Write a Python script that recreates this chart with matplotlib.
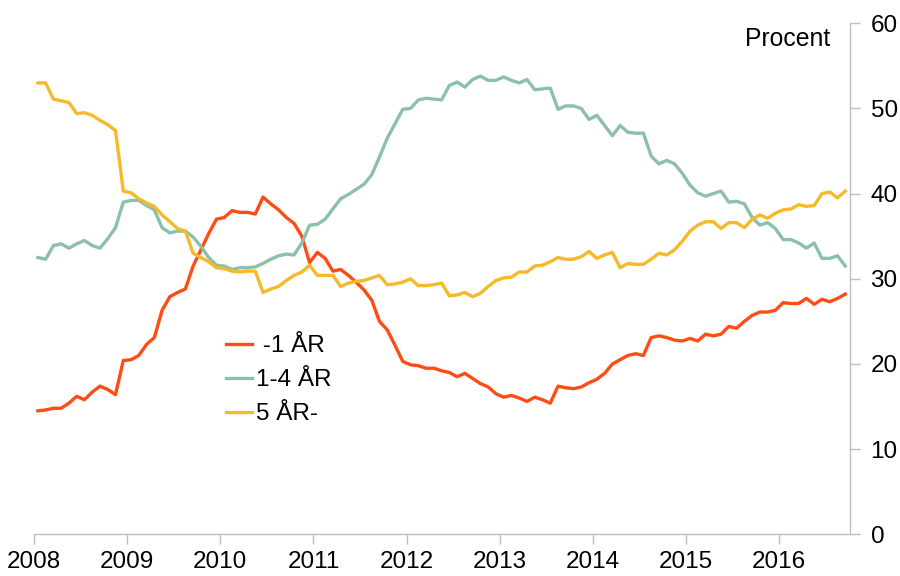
import numpy as np
import matplotlib
matplotlib.use("Agg")
import matplotlib.pyplot as plt

plt.rcParams['font.family'] = ['Liberation Sans', 'DejaVu Sans']

# monthly data, Jan 2008 - Sep 2016
start_year = 2008
labels = [" -1 ÅR", "1-4 ÅR", "5 ÅR-"]

kort = [14.5, 14.6, 14.8, 14.8, 15.4, 16.2, 15.8, 16.7, 17.4, 17.0, 16.4, 20.4,
        20.5, 21.0, 22.3, 23.1, 26.3, 27.9, 28.4, 28.8, 31.5, 33.4, 35.3, 37.0,
        37.2, 38.0, 37.8, 37.8, 37.6, 39.6, 38.8, 38.1, 37.2, 36.5, 35.0, 31.9,
        33.1, 32.4, 30.9, 31.1, 30.4, 29.6, 28.7, 27.5, 25.0, 24.0, 22.2, 20.3,
        19.9, 19.8, 19.5, 19.5, 19.2, 19.0, 18.5, 18.9, 18.3, 17.7, 17.3, 16.5,
        16.1, 16.3, 16.0, 15.6, 16.1, 15.8, 15.4, 17.4, 17.2, 17.1, 17.3, 17.8,
        18.2, 18.9, 20.0, 20.5, 21.0, 21.2, 21.0, 23.1, 23.3, 23.1, 22.8, 22.7,
        23.0, 22.7, 23.5, 23.3, 23.5, 24.4, 24.2, 25.0, 25.7, 26.1, 26.1, 26.3,
        27.2, 27.1, 27.1, 27.7, 27.0, 27.6, 27.3, 27.7, 28.2]

mellem = [32.5, 32.3, 33.9, 34.1, 33.6, 34.1, 34.5, 33.9, 33.6, 34.7, 36.0, 39.0,
          39.2, 39.2, 38.6, 38.1, 36.0, 35.4, 35.6, 35.6, 34.9, 33.8, 32.5, 31.6,
          31.5, 31.1, 31.3, 31.3, 31.4, 31.8, 32.3, 32.7, 32.9, 32.8, 34.2, 36.3,
          36.4, 37.0, 38.2, 39.4, 39.9, 40.5, 41.1, 42.2, 44.3, 46.5, 48.2, 49.9,
          50.0, 51.0, 51.2, 51.1, 51.0, 52.7, 53.1, 52.5, 53.4, 53.8, 53.3, 53.3,
          53.7, 53.3, 53.0, 53.4, 52.2, 52.3, 52.4, 49.9, 50.3, 50.3, 50.0, 48.7,
          49.2, 48.0, 46.8, 48.0, 47.2, 47.1, 47.1, 44.4, 43.5, 43.9, 43.5, 42.4,
          41.0, 40.1, 39.7, 40.0, 40.3, 39.0, 39.1, 38.8, 37.2, 36.3, 36.6, 35.9,
          34.6, 34.6, 34.2, 33.6, 34.2, 32.4, 32.4, 32.7, 31.5]

lang = [53.0, 53.0, 51.1, 50.9, 50.7, 49.4, 49.5, 49.2, 48.6, 48.1, 47.4, 40.3,
        40.1, 39.4, 38.9, 38.5, 37.5, 36.7, 35.9, 35.6, 33.0, 32.5, 32.0, 31.3,
        31.2, 30.9, 30.8, 30.9, 30.9, 28.4, 28.8, 29.1, 29.8, 30.4, 30.8, 31.6,
        30.4, 30.4, 30.4, 29.1, 29.5, 29.7, 29.8, 30.1, 30.4, 29.3, 29.4, 29.6,
        30.0, 29.2, 29.2, 29.3, 29.5, 28.0, 28.1, 28.4, 27.9, 28.3, 29.1, 29.8,
        30.1, 30.2, 30.8, 30.8, 31.5, 31.6, 32.0, 32.5, 32.3, 32.3, 32.6, 33.2,
        32.4, 32.8, 33.1, 31.3, 31.8, 31.7, 31.7, 32.3, 33.0, 32.8, 33.4, 34.4,
        35.6, 36.3, 36.7, 36.7, 35.9, 36.6, 36.6, 36.0, 37.0, 37.5, 37.1, 37.7,
        38.1, 38.2, 38.7, 38.5, 38.6, 40.0, 40.2, 39.5, 40.3]

years = list(range(2008, 2017))
yticks = [0, 10, 20, 30, 40, 50, 60]

x = start_year + (np.arange(len(kort)) + 0.5) / 12

fig = plt.figure(figsize=(9, 5.76), dpi=100)
ax = fig.add_axes([34/900, 1 - 534.3/576, (849.7 - 34)/900, (534.3 - 23.3)/576])

ax.plot(x, kort, color='#FF4B14', lw=2.4, label=labels[0])
ax.plot(x, mellem, color='#8DC0A8', lw=2.4, label=labels[1])
ax.plot(x, lang, color='#F5B92A', lw=2.4, label=labels[2])

ax.set_xlim(2008, 2016.756)
ax.set_ylim(0, 60)
ax.set_xticks(years)
ax.set_yticks(yticks)
ax.yaxis.tick_right()

for s in ['top', 'left']:
    ax.spines[s].set_visible(False)
for s in ['bottom', 'right']:
    ax.spines[s].set_color('#BFBFBF')
    ax.spines[s].set_linewidth(1.0)
ax.tick_params(axis='both', colors='#BFBFBF', labelcolor='black', labelsize=17.5,
               length=7, width=1.0, direction='out')
ax.tick_params(axis='x', pad=5)
ax.tick_params(axis='y', pad=8)

fig.text(830/900, 1 - 46.5/576, "Procent", ha='right', va='baseline', fontsize=17.8)

ax.legend(loc='upper left', bbox_to_anchor=(226/900, 1 - 335/576),
          bbox_transform=fig.transFigure, frameon=False, fontsize=17.5,
          handlelength=1.05, handletextpad=0.2, labelspacing=0.5,
          borderpad=0, borderaxespad=0)

fig.savefig("out.png", dpi=100)
